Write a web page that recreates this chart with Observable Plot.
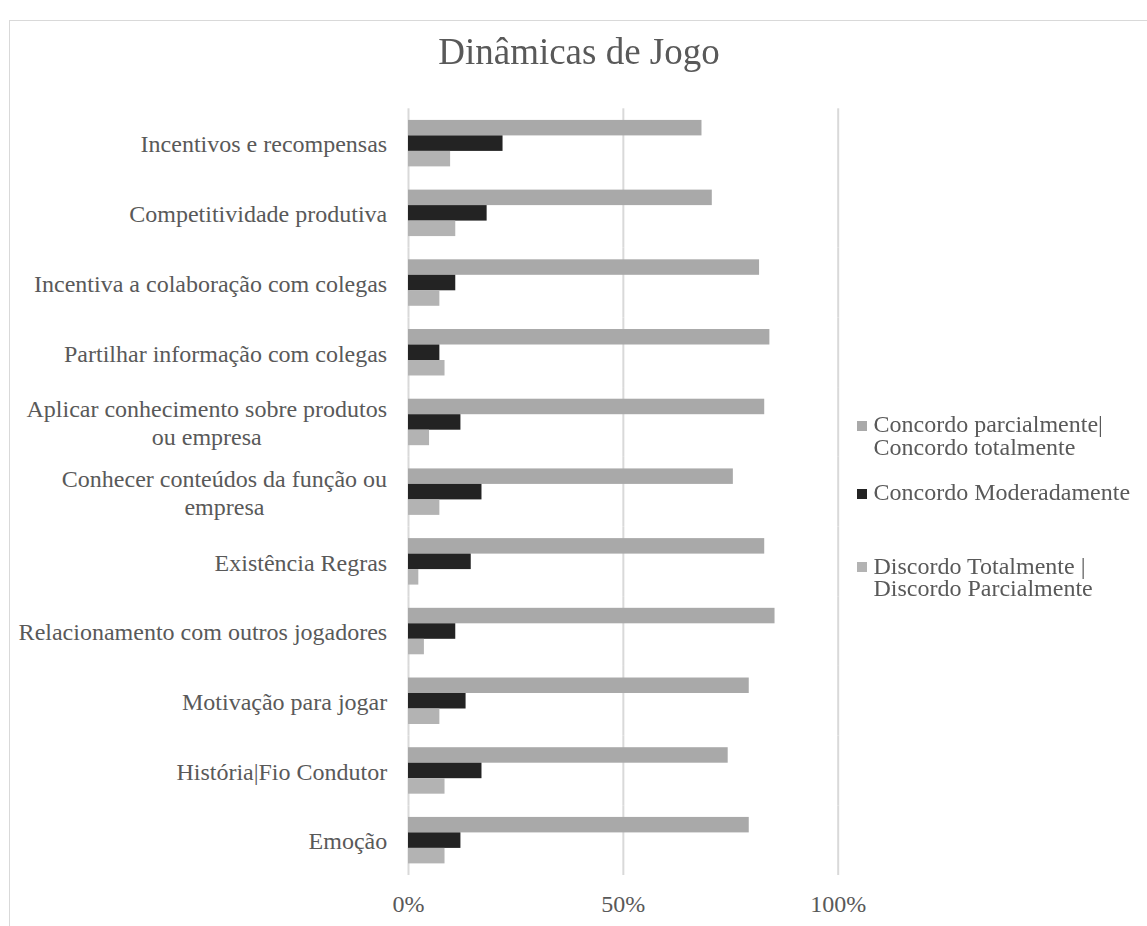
<!DOCTYPE html>
<html lang="pt">
<head>
<meta charset="utf-8">
<title>Dinâmicas de Jogo</title>
<script src="https://cdn.jsdelivr.net/npm/d3@7"></script>
<script src="https://cdn.jsdelivr.net/npm/@observablehq/plot@0.6"></script>
<style>
  html, body { margin: 0; padding: 0; background: #fff; overflow: hidden; }
  #page { position: relative; width: 1147px; height: 926px; font-family: "Liberation Serif", "Times New Roman", serif; color: #595959; }
  #frame { position: absolute; left: 9px; top: 20px; width: 1150px; height: 940px; border: 1px solid #d9d9d9; box-sizing: border-box; pointer-events: none; }
  #title { position: relative; height: 90px; will-change: transform; }
  #title span { position: absolute; left: 9px; width: 1140px; top: 33px; text-align: center; font-size: 37px; line-height: 37px; white-space: nowrap; }
  #chart svg { display: block; }
  #legend { position: absolute; left: 0; top: 0; width: 1147px; height: 926px; will-change: transform; pointer-events: none; }
  .legend-item { position: absolute; left: 856.7px; width: 285px; }
  .legend-item .sw { position: absolute; left: 0; width: 10px; height: 10px; }
  .legend-item .lb { position: absolute; left: 16.8px; width: 268px; font-size: 24px; line-height: 22.8px; }
</style>
</head>
<body>
<div id="page">
  <div id="frame"></div>
  <div id="title"><span>Dinâmicas de Jogo</span></div>
  <div id="chart"></div>
  <div id="legend"></div>
</div>
<script>
// Survey items, top to bottom (line breaks where the labels wrap)
const categories = [
  "Incentivos e recompensas",
  "Competitividade produtiva",
  "Incentiva a colaboração com colegas",
  "Partilhar informação com colegas",
  "Aplicar conhecimento sobre produtos\nou empresa",
  "Conhecer conteúdos da função ou\nempresa",
  "Existência Regras",
  "Relacionamento com outros jogadores",
  "Motivação para jogar",
  "História|Fio Condutor",
  "Emoção"
];

// Response groups, in drawing order within each item
const series = [
  "Concordo parcialmente| Concordo totalmente",
  "Concordo Moderadamente",
  "Discordo Totalmente | Discordo Parcialmente"
];

// Share of answers (%) per item
const concordo = [68.3, 70.7, 81.7, 84.1, 82.9, 75.6, 82.9, 85.3, 79.3, 74.4, 79.3];
const moderado = [22.0, 18.3, 11.0, 7.3, 12.2, 17.1, 14.6, 11.0, 13.4, 17.1, 12.2];
const discordo = [9.8, 11.0, 7.3, 8.5, 4.9, 7.3, 2.4, 3.7, 7.3, 8.5, 8.5];

// Axis ticks (%)
const xTicks = [0, 50, 100];

const colors = ["#a9a9a9", "#232323", "#b3b3b3"];

const rows = categories.flatMap((c, i) => [
  {category: c, series: series[0], value: concordo[i]},
  {category: c, series: series[1], value: moderado[i]},
  {category: c, series: series[2], value: discordo[i]}
]);

const W = 1147, H = 836, mTop = 18.3, mBottom = 51, mLeft = 408, mRight = 309.3;
const step = (H - mTop - mBottom) / categories.length;
const halfGap = step / 6; // gaps between item groups are a third of a step

const chart = Plot.plot({
  width: W,
  height: H,
  marginTop: mTop,
  marginBottom: mBottom,
  marginLeft: mLeft,
  marginRight: mRight,
  style: {
    fontFamily: "'Liberation Serif', 'Times New Roman', serif",
    fontSize: "24px",
    color: "#595959",
    background: "transparent",
    overflow: "visible"
  },
  x: {domain: [0, 100], axis: null},
  y: {domain: series, padding: 0, round: false, axis: null},
  fy: {domain: categories, paddingInner: 1 / 3, paddingOuter: 1 / 6, round: false, axis: null},
  color: {domain: series, range: colors},
  marks: [
    Plot.ruleX(xTicks, {stroke: "#d9d9d9", strokeWidth: 2, insetTop: -halfGap, insetBottom: -halfGap}),
    Plot.barX(rows, {x: "value", y: "series", fy: "category", fill: "series"}),
    Plot.text(categories, {
      fy: d => d,
      text: d => d,
      frameAnchor: "left",
      dx: -21.3,
      textAnchor: "end",
      lineHeight: 1.15,
      fill: "#595959",
      fontSize: 24
    }),
    Plot.axisX(xTicks, {
      label: null,
      tickSize: 0,
      tickPadding: 31,
      tickFormat: d => d + "%",
      fontSize: 24,
      fill: "#595959"
    })
  ]
});

document.getElementById("chart").appendChild(chart);

// Two-line item labels: centre each line within the right-aligned block
chart.querySelectorAll('g[aria-label="text"] text').forEach(t => {
  const spans = t.querySelectorAll("tspan");
  if (spans.length < 2) return;
  const w = t.getBBox().width;
  t.setAttribute("text-anchor", "middle");
  spans.forEach(s => s.setAttribute("x", -w / 2));
});

// Legend on the right
const legendTops = [413.4, 481.1, 554.6];
const legend = document.getElementById("legend");
series.forEach((s, i) => {
  const item = document.createElement("div");
  item.className = "legend-item";
  item.style.top = legendTops[i] + "px";
  const sw = document.createElement("div");
  sw.className = "sw";
  sw.style.top = "7.8px";
  sw.style.background = colors[i];
  const lb = document.createElement("div");
  lb.className = "lb";
  lb.textContent = s;
  item.appendChild(sw);
  item.appendChild(lb);
  legend.appendChild(item);
});
</script>
</body>
</html>
